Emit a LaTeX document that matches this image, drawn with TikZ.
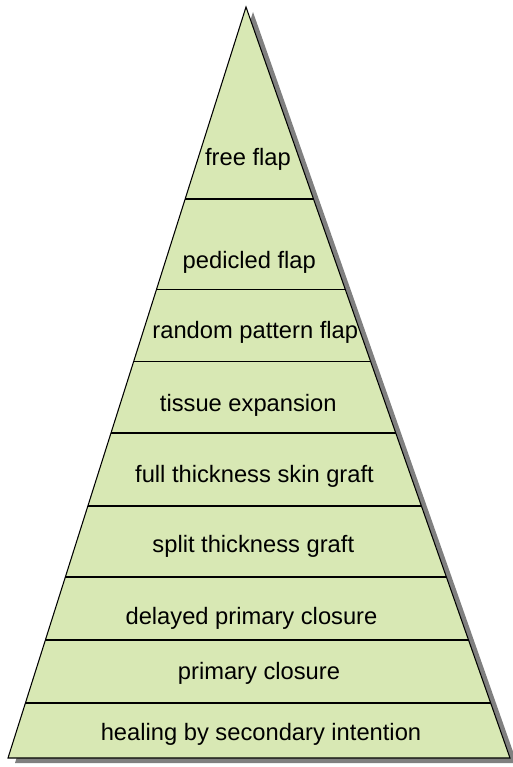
\documentclass[tikz,border=0pt]{standalone}
\usepackage{fontspec}
\setmainfont{Liberation Sans}
\usetikzlibrary{calc}
\usetikzlibrary{positioning}

\definecolor{layergreen}{RGB}{216,232,180}
\definecolor{shadowgray}{RGB}{128,128,128}

\tikzset{
    level label/.style={anchor=base, font=\fontsize{13.5}{16}\selectfont, text=black},
    layer line/.style={draw=black, line width=0.6pt}
}

\begin{document}
\begin{tikzpicture}[x=0.02cm, y=-0.02cm]
            \useasboundingbox (0,0) rectangle (512,767);
            % Corners of the pyramid
            \coordinate (apex) at (246,7);
            \coordinate (bl) at (8,758);
            \coordinate (br) at (510,758);
            
            % Shadow
            \fill[shadowgray] ([shift={(7,5)}]apex) -- ([shift={(7,5)}]bl) -- ([shift={(7,5)}]br) -- cycle;
            
            % Pyramid
            \draw[layer line, fill=layergreen] (apex) -- (bl) -- (br) -- cycle;
            
            % Layer dividers
            \foreach \y in {199, 289.5, 361.5, 433, 506, 577, 640, 703}
                \draw[layer line] ($(apex)!{(\y-7)/751}!(bl)$) -- ($(apex)!{(\y-7)/751}!(br)$);
            
            % Labels
            \node[level label] (free) at (248,165) {free flap};
            \node[level label] (pedicled) at (249.3,268.3) {pedicled flap};
            \node[level label] (random) at (255.3,338.5) {random pattern flap};
            \node[level label] (expansion) at (248.3,411.7) {tissue expansion};
            \node[level label] (fullgraft) at (254.5,482.7) {full thickness skin graft};
            \node[level label] (splitgraft) at (253.3,552.7) {split thickness graft};
            \node[level label] (delayed) at (251.5,624) {delayed primary closure};
            \node[level label] (primary) at (259,679.3) {primary closure};
            \node[level label] (healing) at (261,740) {healing by secondary intention};
\end{tikzpicture}
\end{document}
